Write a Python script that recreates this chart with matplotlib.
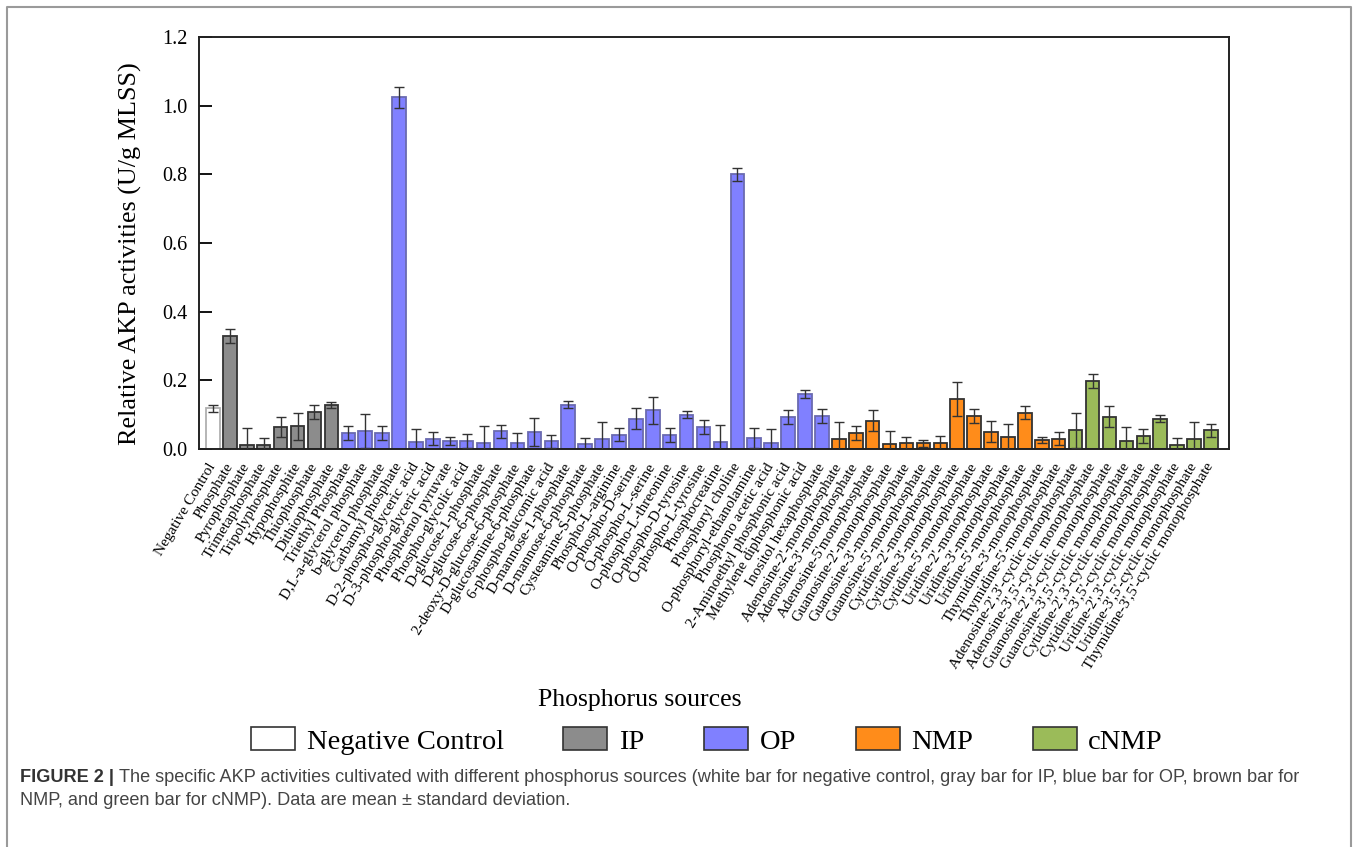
import numpy as np
import matplotlib
matplotlib.use("Agg")
import matplotlib.pyplot as plt
from matplotlib.patches import Patch
from matplotlib.lines import Line2D

plt.rcParams["font.family"] = ["Liberation Serif", "DejaVu Serif"]

# ===============================
# data
# ===============================
neg_labels = ["Negative Control"]
neg_vals = [0.118]
neg_err = [0.010]

ip_labels = ["Phosphate", "Pyrophosphate", "Trimetaphosphate", "Tripolyphosphate",
             "Hypophosphite", "Thiophosphate", "Dithiophosphate"]
ip_vals = [0.329, 0.012, 0.012, 0.064, 0.066, 0.107, 0.128]
ip_err = [0.020, 0.050, 0.020, 0.030, 0.040, 0.020, 0.010]

op_labels = ["Triethyl Phosphate", "D,L-a-glycerol phosphate", "b-glycerol phosphate",
             "Carbamyl phosphate", "D-2-phospho-glyceric acid", "D-3-phospho-glyceric acid",
             "Phosphoenol pyruvate", "Phospho-glycolic acid", "D-glucose-1-phosphate",
             "D-glucose-6-phosphate", "2-deoxy-D-glucose-6-phosphate",
             "D-glucosamine-6-phosphate", "6-phospho-glucomic acid", "D-mannose-1-phosphate",
             "D-mannose-6-phosphate", "Cysteamine-S-phosphate", "Phospho-L-arginine",
             "O-phospho-D-serine", "O-phospho-L-serine", "O-phospho-L-threonine",
             "O-phospho-D-tyrosine", "O-phospho-L-tyrosine", "Phosphocreatine",
             "Phosphoryl choline", "O-phosphoryl-ethanolamine", "Phosphono acetic acid",
             "2-Aminoethyl phosphonic acid", "Methylene diphosphonic acid",
             "Inositol hexaphosphate"]
op_vals = [0.047, 0.053, 0.047, 1.025, 0.019, 0.030, 0.024, 0.023, 0.018,
           0.051, 0.016, 0.049, 0.022, 0.129, 0.013, 0.028, 0.042, 0.088,
           0.112, 0.040, 0.100, 0.064, 0.021, 0.800, 0.032, 0.017, 0.092,
           0.159, 0.096]
op_err = [0.020, 0.050, 0.020, 0.030, 0.040, 0.020, 0.012, 0.020, 0.050,
          0.020, 0.030, 0.040, 0.020, 0.010, 0.020, 0.050, 0.020, 0.030,
          0.040, 0.020, 0.010, 0.020, 0.050, 0.020, 0.030, 0.040, 0.020,
          0.012, 0.020]

nmp_labels = ["Adenosine-2'-monophosphate", "Adenosine-3'-monophosphate",
              "Adenosine-5'monophosphate", "Guanosine-2'-monophosphate",
              "Guanosine-3'-monophosphate", "Guanosine-5'-monophosphate",
              "Cytidine-2'-monophosphate", "Cytidine-3'-monophosphate",
              "Cytidine-5'-monophosphate", "Uridine-2'-monophosphate",
              "Uridine-3'-monophosphate", "Uridine-5'-monophosphate",
              "Thymidine-3'-monophosphate", "Thymidine-5'-monophosphate"]
nmp_vals = [0.029, 0.046, 0.082, 0.013, 0.016, 0.016, 0.018, 0.146, 0.096,
            0.050, 0.034, 0.106, 0.026, 0.030]
nmp_err = [0.050, 0.020, 0.030, 0.040, 0.020, 0.010, 0.020, 0.050, 0.020,
           0.030, 0.040, 0.020, 0.010, 0.020]

cnmp_labels = ["Adenosine-2',3'-cyclic monophosphate", "Adenosine-3',5'-cyclic monophosphate",
               "Guanosine-2',3'-cyclic monophosphate", "Guanosine-3',5'-cyclic monophosphate",
               "Cytidine-2',3'-cyclic monophosphate", "Cytidine-3',5'-cyclic monophosphate",
               "Uridine-2',3'-cyclic monophosphate", "Uridine-3',5'-cyclic monophosphate",
               "Thymidine-3',5'-cyclic monophosphate"]
cnmp_vals = [0.054, 0.197, 0.094, 0.024, 0.038, 0.088, 0.011, 0.029, 0.054]
cnmp_err = [0.050, 0.020, 0.030, 0.040, 0.020, 0.010, 0.020, 0.050, 0.020]

groups = [
    ("Negative Control", neg_labels, neg_vals, neg_err, "white", "#b0b0b0"),
    ("IP", ip_labels, ip_vals, ip_err, "#8c8c8c", "#333333"),
    ("OP", op_labels, op_vals, op_err, "#8080ff", "#6a6ab0"),
    ("NMP", nmp_labels, nmp_vals, nmp_err, "#ff8c1a", "#333333"),
    ("cNMP", cnmp_labels, cnmp_vals, cnmp_err, "#9bbb59", "#333333"),
]

# ===============================
# figure
# ===============================
fig = plt.figure(figsize=(13.57, 8.47), dpi=100)
ax = fig.add_axes([0.1466, 0.470, 0.759, 0.486])

all_labels = []
handles = []
start = 0
for name, labels, vals, err, fc, ec in groups:
    x = np.arange(start, start + len(vals))
    ax.bar(x, vals, width=0.8, color=fc, edgecolor=ec, linewidth=1.3, zorder=2)
    ax.errorbar(x, vals, yerr=err, fmt="none", ecolor="#333333", elinewidth=1.0,
                capsize=3.5, capthick=1.0, zorder=3)
    all_labels += labels
    handles.append(Patch(facecolor=fc, edgecolor="#333333", linewidth=1.2, label=name))
    start += len(vals)

ax.set_xlim(-0.83, len(all_labels) - 1 + 1.06)
ax.set_ylim(0, 1.2)
ax.set_yticks(np.arange(0, 1.21, 0.2))
ax.set_yticklabels([f"{v:.1f}" for v in np.arange(0, 1.21, 0.2)], fontsize=14.5)
ax.tick_params(axis="y", direction="in", length=9, width=1.3, pad=8)
ax.set_xticks(np.arange(len(all_labels)))
ax.set_xticklabels(all_labels, rotation=59, ha="right", va="center",
                   rotation_mode="anchor", fontsize=11)
ax.tick_params(axis="x", length=0, pad=11)
for s in ax.spines.values():
    s.set_linewidth(1.4)
    s.set_color("#222222")

ax.set_ylabel("Relative AKP activities (U/g MLSS)", fontsize=18.8)
ax.yaxis.set_label_coords(-0.055, 0.475)

fig.text(640 / 1357, 1 - 700 / 847, "Phosphorus sources", fontsize=18.5,
         ha="center", va="center")

fig.legend(handles=handles, loc="center", bbox_to_anchor=(707 / 1357, 1 - 741 / 847),
           ncol=5, frameon=False, fontsize=20.5, handlelength=1.55, handleheight=0.85,
           handletextpad=0.4, columnspacing=2.1)

# outer frame
fig.add_artist(Line2D([7 / 1357, 7 / 1357, 1351 / 1357, 1351 / 1357],
                      [0, 1 - 7 / 847, 1 - 7 / 847, 0],
                      color="#9a9a9a", linewidth=1.5, transform=fig.transFigure))

# caption
cap_font = ["Liberation Sans", "DejaVu Sans"]
t1 = fig.text(20 / 1357, 1 - 777 / 847, "FIGURE 2 | ", fontsize=13.1, fontweight="bold",
              color="#333333", family=cap_font, va="center")
fig.canvas.draw()
bb = t1.get_window_extent(fig.canvas.get_renderer())
fig.text(bb.x1 / fig.bbox.width, 1 - 777 / 847,
         "The specific AKP activities cultivated with different phosphorus sources (white bar for "
         "negative control, gray bar for IP, blue bar for OP, brown bar for",
         fontsize=13.1, color="#444444", family=cap_font, va="center")
fig.text(20 / 1357, 1 - 800 / 847,
         "NMP, and green bar for cNMP). Data are mean \u00b1 standard deviation.",
         fontsize=13.1, color="#444444", family=cap_font, va="center")

fig.savefig("out.png", dpi=100)
